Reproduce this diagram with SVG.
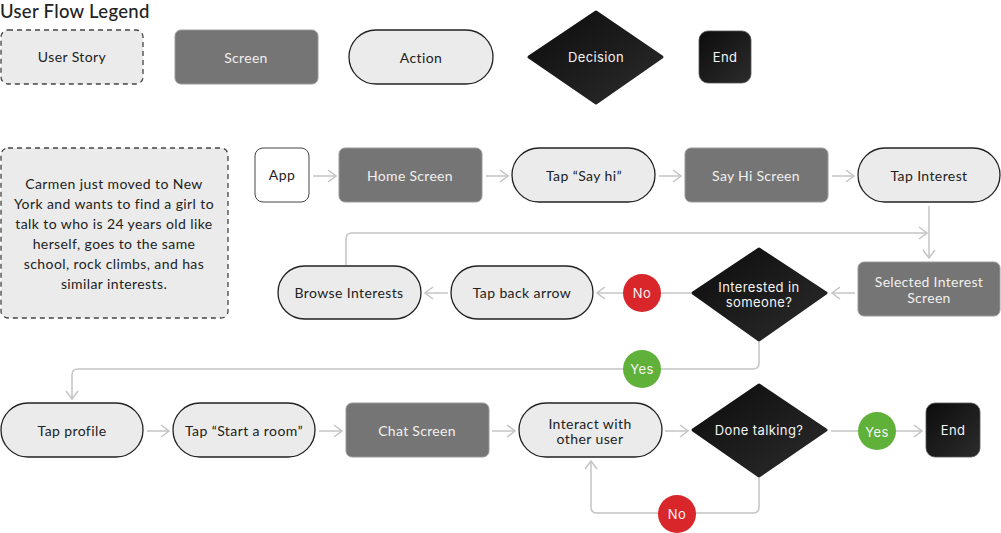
<svg xmlns="http://www.w3.org/2000/svg" width="1001" height="533" viewBox="0 0 1001 533">
<defs>
<linearGradient id="dk" x1="0" y1="0" x2="1" y2="1">
<stop offset="0" stop-color="#0c0c0c"/>
<stop offset="1" stop-color="#2c2c2c"/>
</linearGradient>
<marker id="ah" markerWidth="12" markerHeight="14" refX="10" refY="7" orient="auto" markerUnits="userSpaceOnUse">
<path d="M2,1 L10,7 L2,13" fill="none" stroke="#c4c4c4" stroke-width="1.5"/>
</marker>
</defs>
<style>
.t{font-family:Lato,"Open Sans",sans-serif;font-size:14px;fill:#222;text-anchor:middle;dominant-baseline:central;letter-spacing:0.4px;transform:translateY(-1px)}
.tw{font-family:Lato,"Open Sans",sans-serif;font-size:14px;fill:#f0f0f0;text-anchor:middle;dominant-baseline:central;letter-spacing:0.3px;transform:translateY(-1px)}
.ti{font-family:Inter,"Noto Sans",sans-serif;font-size:13px;fill:#f4f4f4;text-anchor:middle;dominant-baseline:central;letter-spacing:0.4px}
.story{fill:#ebebeb;stroke:#444;stroke-width:1.3;stroke-dasharray:5,4}
.screen{fill:#757575;stroke:#9a9a9a;stroke-width:1}
.action{fill:#ebebeb;stroke:#222;stroke-width:1.3}
.dec{fill:url(#dk);stroke:url(#dk);stroke-width:3;stroke-linejoin:round}
.end{fill:url(#dk);stroke:#555;stroke-width:0.8}
.c{fill:none;stroke:#c4c4c4;stroke-width:1.5}
.no{fill:#d9262a}
.yes{fill:#5fb13a}
</style>
<text x="0" y="18" font-family="Lato,'Open Sans',sans-serif" font-size="18.5" fill="#222" font-weight="500" letter-spacing="0.3">User Flow Legend</text>

<g id="legend-story"><rect class="story" x="1" y="30" width="142" height="54" rx="7"/><text class="t" x="72" y="57">User Story</text></g>
<g id="legend-screen"><rect class="screen" x="175" y="30" width="143" height="54" rx="6"/><text class="tw" x="246" y="58">Screen</text></g>
<g id="legend-action"><rect class="action" x="349" y="30" width="144" height="54" rx="27"/><text class="t" x="421" y="58">Action</text></g>
<g id="legend-decision"><path class="dec" d="M596,12 L662,57 L596,103 L529,57 Z"/><text class="ti" x="596" y="57">Decision</text></g>
<g id="legend-end"><rect class="end" x="699" y="31" width="52" height="52" rx="9"/><text class="ti" x="725" y="57">End</text></g>

<g id="connectors">
<line class="c" x1="313" y1="176" x2="336" y2="176" marker-end="url(#ah)"/>
<line class="c" x1="486" y1="176" x2="508" y2="176" marker-end="url(#ah)"/>
<line class="c" x1="659" y1="176" x2="681" y2="176" marker-end="url(#ah)"/>
<line class="c" x1="832" y1="176" x2="854" y2="176" marker-end="url(#ah)"/>
<line class="c" x1="929" y1="206" x2="929" y2="258" marker-end="url(#ah)"/>
<path class="c" d="M346,265 L346,239 Q346,233 352,233 L927,233" marker-end="url(#ah)"/>
<line class="c" x1="855" y1="293" x2="832" y2="293" marker-end="url(#ah)"/>
<line class="c" x1="691" y1="293" x2="597" y2="293" marker-end="url(#ah)"/>
<line class="c" x1="448" y1="293" x2="425" y2="293" marker-end="url(#ah)"/>
<path class="c" d="M759,342 L759,363 Q759,369 753,369 L78,369 Q72,369 72,375 L72,399" marker-end="url(#ah)"/>
<line class="c" x1="147" y1="431" x2="169" y2="431" marker-end="url(#ah)"/>
<line class="c" x1="319" y1="431" x2="342" y2="431" marker-end="url(#ah)"/>
<line class="c" x1="492" y1="431" x2="515" y2="431" marker-end="url(#ah)"/>
<line class="c" x1="665" y1="431" x2="688" y2="431" marker-end="url(#ah)"/>
<line class="c" x1="831" y1="431" x2="922" y2="431" marker-end="url(#ah)"/>
<path class="c" d="M759,478 L759,507 Q759,513 753,513 L597,513 Q591,513 591,507 L591,461" marker-end="url(#ah)"/>
</g>

<g id="story"><rect class="story" x="1" y="148" width="227" height="170" rx="7"/>
<text class="t" x="114" y="184">Carmen just moved to New</text>
<text class="t" x="114" y="204">York and wants to find a girl to</text>
<text class="t" x="114" y="224">talk to who is 24 years old like</text>
<text class="t" x="114" y="244">herself, goes to the same</text>
<text class="t" x="114" y="264">school, rock climbs, and has</text>
<text class="t" x="114" y="284">similar interests.</text>
</g>
<g id="app"><rect x="255" y="148" width="54" height="54" rx="8" fill="#fff" stroke="#444" stroke-width="1"/><text class="t" x="282" y="175">App</text></g>
<g id="home"><rect class="screen" x="339" y="148" width="143" height="54" rx="6"/><text class="tw" x="410" y="176">Home Screen</text></g>
<g id="tap-say-hi"><rect class="action" x="512" y="148" width="143" height="54" rx="27"/><text class="t" x="584" y="176">Tap “Say hi”</text></g>
<g id="say-hi-screen"><rect class="screen" x="685" y="148" width="143" height="54" rx="6"/><text class="tw" x="756" y="176">Say Hi Screen</text></g>
<g id="tap-interest"><rect class="action" x="858" y="148" width="142" height="54" rx="27"/><text class="t" x="929" y="176">Tap Interest</text></g>
<g id="selected-interest"><rect class="screen" x="858" y="262" width="142" height="54" rx="6"/><text class="tw" x="929" y="282">Selected Interest</text><text class="tw" x="929" y="298">Screen</text></g>
<g id="interested"><path class="dec" d="M759,249 L826,293 L759,340 L693,293 Z"/><text class="ti" x="759" y="287">Interested in</text><text class="ti" x="759" y="302">someone?</text></g>
<g id="no1"><circle class="no" cx="642" cy="293" r="19"/><text class="ti" x="642" y="293">No</text></g>
<g id="tap-back"><rect class="action" x="451" y="266" width="142" height="53" rx="26.5"/><text class="t" x="522" y="293">Tap back arrow</text></g>
<g id="browse"><rect class="action" x="278" y="266" width="143" height="53" rx="26.5"/><text class="t" x="349" y="293">Browse Interests</text></g>
<g id="yes1"><circle class="yes" cx="642" cy="369" r="19"/><text class="ti" x="642" y="369">Yes</text></g>
<g id="tap-profile"><rect class="action" x="1" y="403" width="142" height="54" rx="27"/><text class="t" x="72" y="431">Tap profile</text></g>
<g id="tap-start-room"><rect class="action" x="173" y="403" width="142" height="54" rx="27"/><text class="t" x="244" y="431">Tap “Start a room”</text></g>
<g id="chat"><rect class="screen" x="346" y="403" width="143" height="54" rx="6"/><text class="tw" x="417" y="431">Chat Screen</text></g>
<g id="interact"><rect class="action" x="519" y="403" width="143" height="54" rx="27"/><text class="t" x="590" y="424">Interact with</text><text class="t" x="590" y="439">other user</text></g>
<g id="done"><path class="dec" d="M759,385 L826,430 L759,476 L693,430 Z"/><text class="ti" x="759" y="430">Done talking?</text></g>
<g id="yes2"><circle class="yes" cx="877" cy="431" r="19"/><text class="ti" x="877" y="432">Yes</text></g>
<g id="end"><rect class="end" x="926" y="403" width="54" height="54" rx="9"/><text class="ti" x="953" y="430">End</text></g>
<g id="no2"><circle class="no" cx="677" cy="514" r="19"/><text class="ti" x="677" y="514">No</text></g>
</svg>
